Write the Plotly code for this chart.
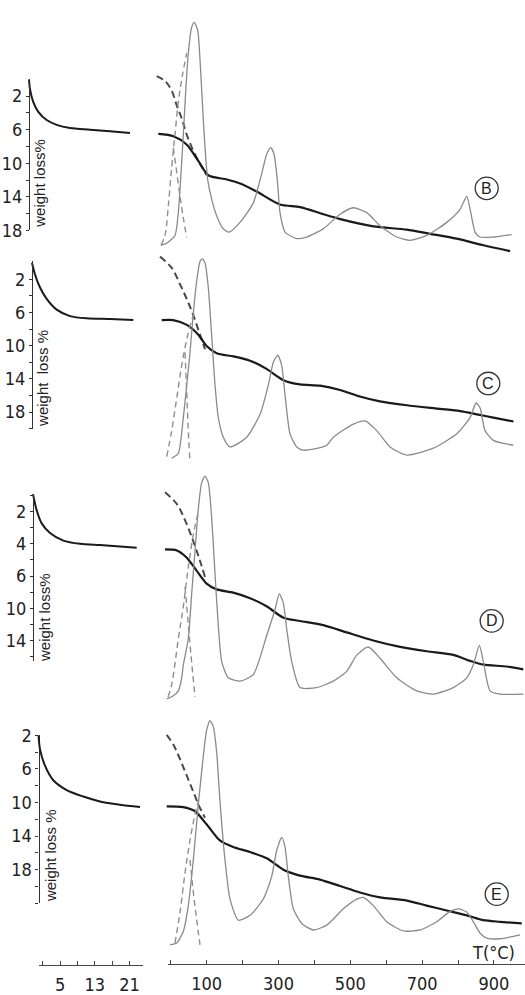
import plotly.graph_objects as go

W, H = 525, 995

# ---------------- DATA ----------------
# Left: isothermal weight loss (%) versus time (h)
time_B = [0, 0.23, 0.99, 2.15, 4.09, 6.4, 9.47, 14.09, 18.71, 23.33]
loss_B = [0, 1.16, 2.71, 3.87, 4.85, 5.43, 5.81, 6.01, 6.2, 6.4]
time_C = [0, 0.69, 1.85, 3.39, 5.7, 8.78, 12.63, 18.0, 23.39]
loss_C = [0, 1.41, 2.98, 4.35, 5.65, 6.43, 6.7, 6.78, 6.9]
time_D = [0, 0.85, 2.01, 3.93, 7.0, 10.85, 15.47, 20.09, 23.95]
loss_D = [0.91, 1.92, 2.73, 3.33, 3.8, 4.0, 4.08, 4.16, 4.24]
time_E = [0, 0.35, 1.5, 3.42, 6.51, 10.35, 14.2, 18.82, 23.44]
loss_E = [2.0, 3.68, 5.62, 7.36, 8.53, 9.3, 9.88, 10.27, 10.55]

# Right: TG (weight loss %) versus temperature (°C)
T_tg_B = [20, 62, 99, 131, 159, 211, 248, 294, 359, 415, 480, 527, 619, 712, 777, 851, 926, 1000]
tg_B = [6.51, 6.78, 7.76, 9.69, 11.43, 11.94, 12.41, 13.37, 14.92, 15.23, 16.08, 16.66, 17.52, 17.91, 18.41, 18.99, 19.77, 20.47]
T_tg_C = [20, 52, 90, 122, 145, 173, 220, 266, 312, 359, 405, 461, 517, 572, 628, 703, 795, 851, 898, 944, 1000]
tg_C = [6.91, 6.91, 7.49, 8.67, 10.04, 10.91, 11.29, 11.8, 12.79, 14.15, 14.67, 14.82, 15.33, 16.12, 16.71, 17.18, 17.61, 17.88, 18.27, 18.67, 19.14]
T_tg_D = [20, 53, 80, 108, 136, 164, 210, 257, 303, 350, 396, 461, 526, 600, 675, 749, 823, 870, 907, 972, 1018]
tg_D = [4.35, 4.41, 4.85, 5.66, 6.47, 6.83, 7.03, 7.38, 7.88, 8.59, 8.79, 9.05, 9.5, 10.0, 10.4, 10.67, 10.9, 11.27, 11.5, 11.62, 11.8]
T_tg_E = [20, 66, 99, 131, 168, 205, 252, 299, 345, 391, 447, 503, 558, 614, 689, 744, 800, 856, 902, 949, 1009]
tg_E = [10.47, 10.55, 11.05, 12.6, 14.53, 15.31, 15.9, 16.66, 18.02, 18.72, 19.19, 19.96, 20.73, 21.31, 21.7, 22.29, 22.87, 23.45, 24.03, 24.22, 24.42]

# Dashed TG (first step)
T_dtg_B = [15.5, 38.7, 57.4, 71.3, 85.2, 99.2, 117.6, 136.3, 155]
dtg_B = [-0.38, 0.2, 1.36, 3.1, 4.65, 6.59, 8.52, 10.08, 11.43]
T_dtg_C = [15.3, 47.9, 71, 89.7, 108, 126.7, 140.6]
dtg_C = [-0.74, 0.62, 2.59, 4.35, 6.32, 8.67, 10.43]
T_dtg_D = [20, 52.6, 75.7, 98.8, 117.5, 131.4]
dtg_D = [0.8, 1.52, 2.53, 3.84, 5.05, 6.06]
T_dtg_E = [20, 38.4, 57.1, 75.7, 94.1, 112.8, 126.7]
dtg_E = [1.94, 3.1, 4.85, 6.78, 8.72, 10.66, 11.82]

# DTA (arbitrary units)
T_dta_B = [27.5, 43.4, 66.5, 75.7, 83.2, 89.7, 96.3, 103.6, 113, 120.3, 129.8, 136.2, 142.6, 150.1, 157.6,
           168.8, 182.7, 201.1, 217, 247.6, 284.7, 308.1, 322, 333.1, 342.3, 351.5, 359, 373, 405.6, 433.4,
           479.7, 526.2, 563.3, 600.6, 637.7, 684.2, 721.3, 767.8, 823.5, 860.6, 879.2, 890.4, 902.4, 916.3,
           953.3, 1004.6]
dta_B = [0, 1, 5, 16.7, 36.7, 56.7, 78.5, 98.5, 111.7, 114.2, 110, 95, 73.5, 50, 33.5,
         23.5, 15, 8.4, 6.7, 11.7, 21.7, 36.7, 46.7, 50, 46.7, 33.4, 16.7, 6.7, 3.4, 4.2,
         8.4, 15.9, 19.2, 16.7, 10, 4.2, 2.5, 5, 11.7, 18.4, 25, 16.7, 6.7, 4.2,
         4.2, 5.4]
T_dta_C = [47.9, 66.2, 80.2, 89.7, 98.8, 108, 117.5, 126.7, 133.1, 140.6, 149.8, 159.3, 168.5, 177.7,
           191.6, 210.3, 256.8, 293.9, 317, 330.9, 343.2, 354.3, 363.5, 377.4, 396.1, 414.5, 442.4,
           479.7, 498.1, 553.8, 586.4, 619, 656.1, 702.6, 776.7, 841.9, 878.9, 895.6, 906.8, 920.7,
           943.8, 999.6]
dta_C = [-1.65, 0.85, 19.15, 35.85, 52.5, 72.5, 89.15, 99.15, 100.5, 98.35, 85.85, 60.85, 35.85, 19.15,
         9.15, 4.15, 9.15, 20.85, 35.85, 47.5, 51.15, 45.85, 30.85, 10.85, 4.15, 2.5, 3,
         5, 9.15, 15.85, 17.5, 12.5, 4.15, 0, 3.5, 10.85, 19.15, 26.65, 24.15, 12.5,
         7.5, 5]
T_dta_D = [24.7, 43.1, 57.1, 66.5, 71, 84.9, 94.4, 103.6, 112.8, 122.2, 131.4, 140.6, 150.1, 159.3,
           168.5, 178, 196.4, 229, 266, 303.3, 326.5, 338.4, 349.6, 359, 373, 396.1, 442.6, 488.9,
           526.2, 554.1, 586.4, 619, 665.5, 721.3, 767.5, 823.2, 860.6, 878.9, 895.6, 906.8, 925.5,
           953.3, 1018.2]
dta_D = [0, 1.65, 4.15, 10.85, 17.5, 30.85, 54.15, 75.85, 97.5, 110.85, 114.15, 110.85, 92.5, 64.15,
         37.5, 19.15, 10.85, 9.15, 12.5, 32.5, 45.85, 53.85, 49.15, 35.85, 19.15, 5.85, 5.85, 9.15,
         14.15, 22.5, 26.65, 20.85, 10.85, 4.15, 2.5, 5.85, 10.85, 17.5, 27.5, 19.15, 4.15,
         2.5, 2.5]
T_dta_E = [29.2, 47.9, 66.2, 80.2, 94.1, 108, 122, 131.4, 140.6, 149.8, 159.3, 168.5, 182.4, 196.4,
           219.5, 252.1, 289.1, 312.5, 326.5, 340.4, 349.6, 358.8, 372.7, 396.1, 428.4, 465.8, 512,
           549.3, 567.7, 595.6, 632.9, 679.2, 725.7, 772.2, 809.3, 832.4, 855.8, 874.2, 892.9, 911.5,
           948.6, 1004.4]
dta_E = [0.15, 1, 6.85, 20.15, 43.5, 71.85, 96.85, 110.15, 114.85, 111.85, 98.5, 73.5, 43.5, 23.5,
         12.65, 15.15, 23.5, 35.15, 48.5, 55.15, 50.15, 35.15, 18.5, 11, 7.65, 10.15, 18.5,
         23.5, 24.35, 20.15, 11.85, 7.15, 7.65, 11.85, 17.15, 18.5, 16.85, 11.85, 6, 3.5,
         3.15, 5.15]

# Dashed DTA legs (arbitrary units)
T_dl1_B = [27.5, 38.6, 47.8, 57.3, 66.5, 75.7, 86.8, 99.1]
dl1_B = [0, 5, 20, 40, 56.7, 73.4, 86.7, 98.4]
T_dl2_B = [61.8, 71.3, 80.5, 89.7, 99.1]
dl2_B = [50, 37.5, 25, 14, 4]
T_dl1_C = [33.9, 47.9, 61.8, 75.7, 89.7, 103.6, 112.8]
dl1_C = [-0.85, 12.5, 29.15, 45.85, 59.15, 69.15, 73.35]
T_dl2_C = [84.9, 89.7, 94.1, 98.8]
dl2_C = [52.5, 32.5, 12.5, -4]
T_dl1_D = [28.4, 38.7, 57.1, 71, 84.9, 98.8, 112.8]
dl1_D = [1, 7.5, 30.85, 47.5, 67.5, 84.15, 95.85]
T_dl2_D = [75.7, 84.1, 92.4, 103.6]
dl2_D = [57.5, 40, 22.5, 1]
T_dl1_E = [43.1, 57.1, 71, 84.9, 98.8, 108]
dl1_E = [1, 16.85, 36.85, 53.5, 66.85, 73.5]
T_dl2_E = [84.9, 93.3, 103, 112.8]
dl2_E = [43.5, 28.5, 13.5, 0]

temp_ticks = [0, 100, 200, 300, 400, 500, 600, 700, 800, 900]
temp_labels = ["", "100", "", "300", "", "500", "", "700", "", "900"]
time_ticks = [1, 5, 9, 13, 17, 21]
time_labels = ["", "5", "", "13", "", "21"]

# ---------------- LAYOUT GEOMETRY (pixels of the 525x995 page) ----------------
PX_PER_H = 4.33      # time axis scale
PX_PER_C = 0.359     # temperature axis scale
DTA_PX = 2.0         # px per DTA unit

panels = [
    dict(name="B", axis_px=29, py0=70, k=8.6, ext=(0, 18), ticks=list(range(2, 19, 2)),
         labels={2: "2", 6: "6", 10: "10", 14: "14", 18: "18"}, rstart=158.3, P=240,
         letter=(486.7, 181.7), wl=(40, 177), wltext="weight loss%",
         left=(time_B, loss_B), tg=(T_tg_B, tg_B), dtg=(T_dtg_B, dtg_B), dta=(T_dta_B, dta_B),
         dl1=(T_dl1_B, dl1_B), dl2=(T_dl2_B, dl2_B)),
    dict(name="C", axis_px=32, py0=258, k=8.5, ext=(-0.2, 20), ticks=list(range(2, 21, 2)),
         labels={2: "2", 6: "6", 10: "10", 14: "14", 18: "18"}, rstart=161.7, P=455,
         letter=(488.3, 381.7), wl=(43, 377), wltext="weight  loss %",
         left=(time_C, loss_C), tg=(T_tg_C, tg_C), dtg=(T_dtg_C, dtg_C), dta=(T_dta_C, dta_C),
         dl1=(T_dl1_C, dl1_C), dl2=(T_dl2_C, dl2_C)),
    dict(name="D", axis_px=33, py0=480, k=16.5, ext=(0.9, 11.3), ticks=list(range(1, 12)),
         labels={2: "2", 4: "4", 6: "6", 8: "10", 10: "14"}, rstart=165, P=705,
         letter=(491.7, 625), wl=(45, 622), wltext="weight loss%",
         left=(time_D, loss_D), tg=(T_tg_D, tg_D), dtg=(T_dtg_D, dtg_D), dta=(T_dta_D, dta_D),
         dl1=(T_dl1_D, dl1_D), dl2=(T_dl2_D, dl2_D)),
    dict(name="E", axis_px=38.5, py0=725, k=8.6, ext=(2, 22), ticks=list(range(2, 23, 2)),
         labels={2: "2", 6: "6", 10: "10", 14: "14", 18: "18"}, rstart=166.7, P=957,
         letter=(496.7, 905), wl=(50, 866), wltext="weight loss %",
         left=(time_E, loss_E), tg=(T_tg_E, tg_E), dtg=(T_dtg_E, dtg_E), dta=(T_dta_E, dta_E),
         dl1=(T_dl1_E, dl1_E), dl2=(T_dl2_E, dl2_E)),
]

FONT = "Liberation Sans Narrow, DejaVu Sans Condensed, Liberation Sans, Arial, sans-serif"
INK = "#222222"


def px2x(px):
    return px / W


def py2y(py):
    return 1 - py / H


fig = go.Figure()
layout = dict(
    width=W, height=H, margin=dict(l=0, r=0, t=0, b=0), showlegend=False,
    paper_bgcolor="white", plot_bgcolor="rgba(0,0,0,0)",
    font=dict(family=FONT, color=INK),
)

hidden = dict(visible=False, showgrid=False, zeroline=False, fixedrange=True)

# visible bottom axes
layout["xaxis"] = dict(domain=[px2x(38.5), px2x(143)], range=[0, (143 - 38.5) / PX_PER_H],
                       anchor="free", position=py2y(978), showline=True, linecolor="#444", linewidth=1,
                       ticks="inside", ticklen=4, tickcolor="#444", tickvals=time_ticks, ticktext=time_labels,
                       ticklabelstandoff=3,
                       tickfont=dict(size=18, family=FONT, color=INK), showgrid=False, zeroline=False)
layout["xaxis2"] = dict(domain=[px2x(168), 1], range=[(168 - 170.8) / PX_PER_C, (525 - 170.8) / PX_PER_C],
                        anchor="free", position=py2y(977), showline=True, linecolor="#444", linewidth=1,
                        ticks="inside", ticklen=4, tickcolor="#444", tickvals=temp_ticks, ticktext=temp_labels,
                        ticklabelstandoff=3,
                        tickfont=dict(size=18, family=FONT, color=INK), showgrid=False, zeroline=False)

shapes = []
annotations = []

for i, p in enumerate(panels):
    xl = 3 + i      # left hidden x axis
    xr = 7 + i      # right hidden x axis
    yv = 1 + i      # visible weight-loss axis
    yt = 5 + i      # hidden TG axis (right)
    yd = 9 + i      # hidden DTA axis
    a = p["axis_px"]
    layout[f"xaxis{xl}"] = dict(hidden, domain=[px2x(a - 6), px2x(150)],
                                range=[-6 / PX_PER_H, (150 - a) / PX_PER_H], anchor="free", position=0)
    rs = p["rstart"]
    layout[f"xaxis{xr}"] = dict(hidden, domain=[px2x(140), 1],
                                range=[20 + (140 - rs) / PX_PER_C, 20 + (525 - rs) / PX_PER_C],
                                anchor="free", position=0)
    py0, k = p["py0"], p["k"]
    top, bot = p["ext"]
    layout[f"yaxis{yv}"] = dict(domain=[py2y(py0 + k * bot), py2y(py0 + k * top)], range=[bot, top],
                                anchor="free", position=px2x(a), showline=True, linecolor="#333",
                                linewidth=1.2, ticks="outside", ticklen=3, tickcolor="#333",
                                tickvals=p["ticks"], ticktext=[p["labels"].get(v, "") for v in p["ticks"]],
                                tickfont=dict(size=18, family=FONT, color=INK),
                                showgrid=False, zeroline=False, fixedrange=True)
    layout[f"yaxis{yt}"] = dict(hidden, domain=[0, 1], range=[(H - py0) / k, -py0 / k],
                                anchor="free", position=0)
    P = p["P"]
    layout[f"yaxis{yd}"] = dict(hidden, domain=[0, 1], range=[(P - H) / DTA_PX, P / DTA_PX],
                                anchor="free", position=0)

    xls, yvs = f"x{xl}", f"y{yv}"
    xrs, yts, yds = f"x{xr}", f"y{yt}", f"y{yd}"

    fig.add_trace(go.Scatter(x=p["left"][0], y=p["left"][1], xaxis=xls, yaxis=yvs, mode="lines",
                             line=dict(color="#1a1a1a", width=2, shape="spline", smoothing=0.8),
                             hoverinfo="skip", cliponaxis=False))
    fig.add_trace(go.Scatter(x=p["dta"][0], y=p["dta"][1], xaxis=xrs, yaxis=yds, mode="lines",
                             line=dict(color="#8a8a8a", width=1.3, shape="spline", smoothing=0.6),
                             hoverinfo="skip"))
    for leg in ("dl1", "dl2"):
        fig.add_trace(go.Scatter(x=p[leg][0], y=p[leg][1], xaxis=xrs, yaxis=yds, mode="lines",
                                 line=dict(color="#8f8f8f", width=1.4, dash="6px,4px", shape="spline"),
                                 hoverinfo="skip"))
    fig.add_trace(go.Scatter(x=p["dtg"][0], y=p["dtg"][1], xaxis=xrs, yaxis=yts, mode="lines",
                             line=dict(color="#4a4a4a", width=2, dash="7px,4px", shape="spline"),
                             hoverinfo="skip"))
    fig.add_trace(go.Scatter(x=p["tg"][0], y=p["tg"][1], xaxis=xrs, yaxis=yts, mode="lines",
                             line=dict(color="#1a1a1a", width=2.2, shape="spline", smoothing=0.7),
                             hoverinfo="skip"))

    cx, cy = p["letter"]
    r = 11.5
    shapes.append(dict(type="circle", xref="paper", yref="paper", x0=px2x(cx - r), x1=px2x(cx + r),
                       y0=py2y(cy + r), y1=py2y(cy - r), line=dict(color="#333", width=1.3)))
    annotations.append(dict(text=p["name"], x=px2x(cx), y=py2y(cy), xref="paper", yref="paper",
                            showarrow=False, xanchor="center", yanchor="middle",
                            font=dict(size=16, family="Liberation Sans, Arial", color=INK)))
    wx, wy = p["wl"]
    annotations.append(dict(text=p["wltext"], x=px2x(wx), y=py2y(wy), xref="paper", yref="paper",
                            showarrow=False, textangle=-90, xanchor="center", yanchor="middle",
                            font=dict(size=15, family="Liberation Sans, Arial", color=INK)))

# dummy empty traces so the two visible bottom axes own a subplot
fig.add_trace(go.Scatter(x=[None], y=[None], xaxis="x", yaxis="y4", hoverinfo="skip"))
fig.add_trace(go.Scatter(x=[None], y=[None], xaxis="x2", yaxis="y8", hoverinfo="skip"))

annotations.append(dict(text="T(°C)", x=px2x(493.3), y=py2y(965), xref="paper", yref="paper",
                        showarrow=False, xanchor="center", yanchor="middle",
                        font=dict(size=18, family=FONT, color=INK)))

layout["shapes"] = shapes
layout["annotations"] = annotations
fig.update_layout(**layout)
fig.write_html("out.html", config={"displayModeBar": False},
               post_script="document.body.style.margin='0';document.body.style.overflow='hidden';")
